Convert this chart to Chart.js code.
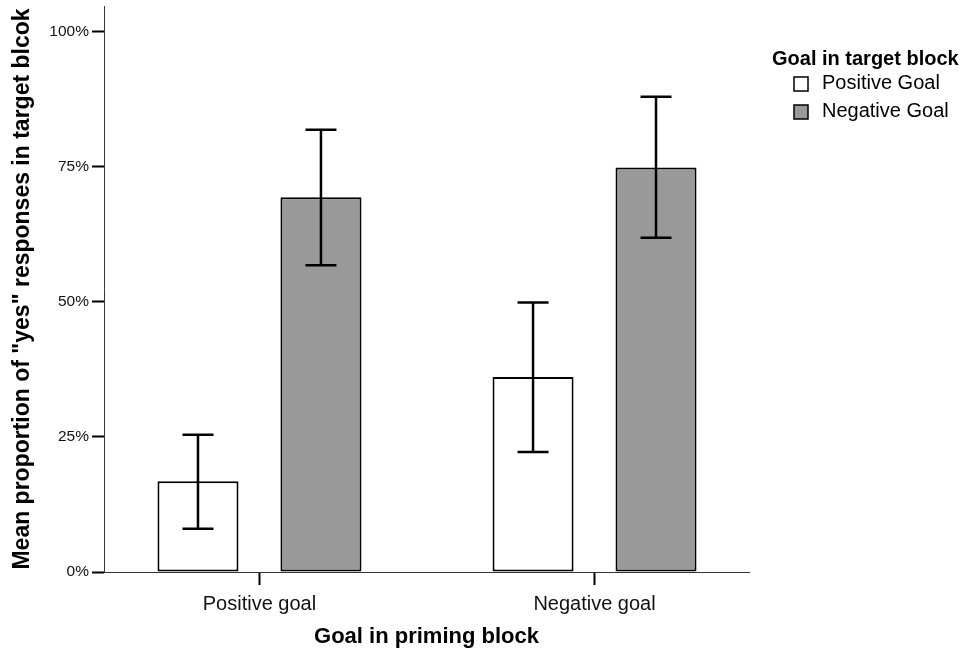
<!DOCTYPE html>
<html>
<head>
<meta charset="utf-8">
<title>Goal in priming block</title>
<script src="https://cdn.jsdelivr.net/npm/chart.js@4/dist/chart.umd.min.js"></script>
<style>
  html, body { margin: 0; padding: 0; background: #fff; }
  canvas { display: block; }
</style>
</head>
<body>
<canvas id="chart" width="964" height="650"></canvas>
<script>
// values (percent)
const categories = ["Positive goal", "Negative goal"];
const seriesNames = ["Positive Goal", "Negative Goal"];
const positiveMeans = [16.8, 36.1];
const positiveLow = [8.0, 22.2];
const positiveHigh = [25.4, 49.9];
const negativeMeans = [69.4, 74.9];
const negativeLow = [56.8, 61.9];
const negativeHigh = [81.9, 88.0];
const yTicks = [0, 25, 50, 75, 100];

const fillColors = ["#ffffff", "#999999"];
const FONT = "'Liberation Sans', Arial, Helvetica, sans-serif";

document.addEventListener("DOMContentLoaded", function() {
    const lows = [positiveLow, negativeLow];
    const highs = [positiveHigh, negativeHigh];

    // error bars drawn over the bars
    const errorBars = {
        id: "errorBars",
        afterDatasetsDraw(chart) {
            const ctx = chart.ctx;
            const y = chart.scales.y;
            ctx.save();
            ctx.strokeStyle = "#000";
            ctx.lineWidth = 2.5;
            chart.data.datasets.forEach((ds, i) => {
                const meta = chart.getDatasetMeta(i);
                meta.data.forEach((bar, j) => {
                    const top = y.getPixelForValue(highs[i][j]);
                    const bottom = y.getPixelForValue(lows[i][j]);
                    const half = 15.5;
                    ctx.beginPath();
                    ctx.moveTo(bar.x, top);
                    ctx.lineTo(bar.x, bottom);
                    ctx.moveTo(bar.x - half, top);
                    ctx.lineTo(bar.x + half, top);
                    ctx.moveTo(bar.x - half, bottom);
                    ctx.lineTo(bar.x + half, bottom);
                    ctx.stroke();
                });
            });
            ctx.restore();
        }
    };

    // legend in the top right corner
    const sideLegend = {
        id: "sideLegend",
        afterDraw(chart) {
            const ctx = chart.ctx;
            ctx.save();
            ctx.fillStyle = "#000";
            ctx.textAlign = "left";
            ctx.textBaseline = "alphabetic";
            ctx.font = "bold 20px " + FONT;
            ctx.fillText("Goal in target block", 772, 65);
            ctx.font = "20px " + FONT;
            chart.data.datasets.forEach((ds, i) => {
                const cy = 84 + i * 28;
                ctx.fillStyle = ds.backgroundColor;
                ctx.fillRect(794, cy - 7, 14, 14);
                ctx.strokeStyle = "#000";
                ctx.lineWidth = 1.5;
                ctx.strokeRect(794, cy - 7, 14, 14);
                ctx.fillStyle = "#000";
                ctx.fillText(ds.label, 822, cy + 5);
            });
            ctx.restore();
        }
    };

    new Chart(document.getElementById("chart"), {
        type: "bar",
        data: {
            datasets: [
                {
                    label: seriesNames[0],
                    data: categories.map((c, i) => ({ x: i, y: positiveMeans[i] })),
                    backgroundColor: fillColors[0]
                },
                {
                    label: seriesNames[1],
                    data: categories.map((c, i) => ({ x: i, y: negativeMeans[i] })),
                    backgroundColor: fillColors[1]
                }
            ]
        },
        options: {
            responsive: false,
            animation: false,
            layout: { padding: { left: 8, right: 215, top: 6, bottom: 0 } },
            datasets: {
                bar: {
                    borderColor: "#000",
                    borderWidth: 2,
                    borderSkipped: false,
                    categoryPercentage: 0.734,
                    barPercentage: 0.659
                }
            },
            plugins: {
                legend: { display: false },
                tooltip: { enabled: false }
            },
            scales: {
                x: {
                    type: "linear",
                    min: -0.464,
                    max: 1.461,
                    offset: false,
                    afterBuildTicks: s => { s.ticks = categories.map((c, i) => ({ value: i })); },
                    afterFit: s => { s.height = 78; s.paddingLeft = 0; s.paddingRight = 0; },
                    grid: {
                        offset: false,
                        drawOnChartArea: false,
                        tickLength: 13,
                        tickWidth: 2,
                        tickColor: "#000"
                    },
                    border: { display: true, color: "#333", width: 1 },
                    ticks: {
                        callback: v => categories[v],
                        color: "#111",
                        padding: 7,
                        maxRotation: 0,
                        font: { family: FONT, size: 20 }
                    },
                    title: {
                        display: true,
                        text: "Goal in priming block",
                        color: "#000",
                        padding: { top: 0, bottom: 0 },
                        font: { family: FONT, size: 22, weight: "bold" }
                    }
                },
                y: {
                    min: 0,
                    max: 104.8,
                    afterBuildTicks: s => { s.ticks = yTicks.map(v => ({ value: v })); },
                    afterFit: s => { s.width = 96; s.paddingTop = 0; s.paddingBottom = 0; },
                    grid: {
                        drawOnChartArea: false,
                        tickLength: 12,
                        tickWidth: 2,
                        tickColor: "#000"
                    },
                    border: { display: true, color: "#333", width: 1 },
                    ticks: {
                        callback: v => v + "%",
                        color: "#111",
                        padding: 3,
                        font: { family: FONT, size: 15.5 }
                    },
                    title: {
                        display: true,
                        text: "Mean proportion of \"yes\" responses in target blcok",
                        color: "#000",
                        padding: { top: 1, bottom: 0 },
                        font: { family: FONT, size: 23, weight: "bold" }
                    }
                }
            }
        },
        plugins: [errorBars, sideLegend]
    });
});
</script>
</body>
</html>
